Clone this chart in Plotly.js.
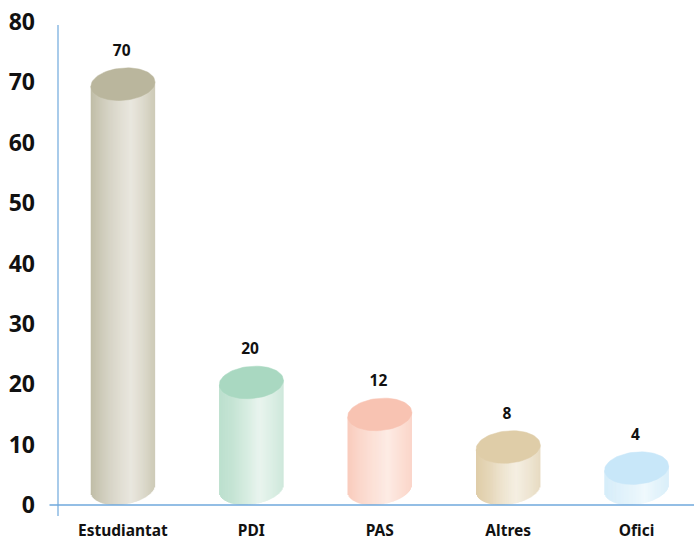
<!DOCTYPE html>
<html>
<head>
<meta charset="utf-8">
<script src="https://cdn.plot.ly/plotly-3.0.1.min.js"></script>
<style>html,body{margin:0;padding:0;background:#fff}#chart{width:694px;height:540px}</style>
</head>
<body>
<div id="chart"></div>
<script>
// Category names and the values printed over each column
const categories = ["Estudiantat", "PDI", "PAS", "Altres", "Ofici"];
const valueLabels = [70, 20, 12, 8, 4];
// Height of each column's top as drawn in the picture, read on the axis scale
// (the short 3D columns stand taller than their printed values)
const drawnHeights = [69.7, 20.3, 15, 9.6, 6.1];
const yTicks = [0, 10, 20, 30, 40, 50, 60, 70, 80];

// Colours: left edge, highlight, right edge, top cap
const shadeLeft = ["#bdb9a2", "#b4dcc8", "#f8c4b2", "#dfcda8", "#cde9f8"];
const shadeLight = ["#e5e3d9", "#e7f4ed", "#fdeae3", "#f3ecdd", "#f0f9fd"];
const shadeRight = ["#cecbb7", "#c5e4d5", "#fbd6c9", "#e4d6b9", "#d5edf9"];
const capColor = ["#bab69d", "#a9d8c1", "#f8c3b2", "#dfcda8", "#c8e7f9"];

// Cylinder proportions in axis units
const RX = 0.25, RY = 2.68, SKEW = 0.36, BOTTOM_SKEW = 0.62, BOTTOM_CENTER = 2.75, STRIPS = 65, HIGHLIGHT_AT = 0.63;
const FONT = "'Noto Sans', sans-serif";

function hex(c) { return [1, 3, 5].map(i => parseInt(c.substr(i, 2), 16)); }
function mix(a, b, t) {
  const A = hex(a), B = hex(b);
  return "rgb(" + A.map((v, i) => Math.round(v + (B[i] - v) * t)).join(",") + ")";
}

const traces = [];
categories.forEach((name, i) => {
  const xs = [], bases = [], heights = [], colors = [];
  for (let s = 0; s < STRIPS; s++) {
    const u = (s + 0.5) / STRIPS * 2 - 1;       // -1..1 across the column
    const low = BOTTOM_CENTER - RY * Math.sqrt(1 - u * u) + BOTTOM_SKEW * u;
    const top = drawnHeights[i] + SKEW * u;
    xs.push(i + u * RX);
    bases.push(low);
    heights.push(top - low);
    const p = (u + 1) / 2;
    colors.push(p < HIGHLIGHT_AT
      ? mix(shadeLeft[i], shadeLight[i], p / HIGHLIGHT_AT)
      : mix(shadeLight[i], shadeRight[i], (p - HIGHLIGHT_AT) / (1 - HIGHLIGHT_AT)));
  }
  traces.push({
    type: "bar", x: xs, y: heights, base: bases,
    width: xs.map(() => 2 * RX / STRIPS * 1.2),
    marker: { color: colors, line: { width: 0 } },
    hoverinfo: "skip", showlegend: false
  });
  const ex = [], ey = [];
  for (let a = 0; a <= 72; a++) {
    const t = a / 72 * 2 * Math.PI;
    ex.push(i + RX * Math.cos(t));
    ey.push(drawnHeights[i] + RY * Math.sin(t) + SKEW * Math.cos(t));
  }
  traces.push({
    type: "scatter", mode: "lines", x: ex, y: ey,
    fill: "toself", fillcolor: capColor[i],
    line: { width: 0.5, color: capColor[i] },
    hoverinfo: "skip", showlegend: false
  });
});

traces.push({
  type: "scatter", mode: "text",
  x: categories.map((_, i) => i - 0.01),
  y: drawnHeights.map(h => h + 5.3),
  text: valueLabels.map(String),
  textposition: "middle center",
  textfont: { family: FONT, size: 15.5, color: "#111" },
  texttemplate: "<b>%{text}</b>",
  hoverinfo: "skip", showlegend: false
});

const AXIS = "#6fa8dc";
const plotH = 483;
const layout = {
  width: 694, height: 540,
  margin: { l: 57.5, r: 0, t: 22, b: 35, pad: 0 },
  paper_bgcolor: "#fff", plot_bgcolor: "#fff",
  barmode: "overlay", showlegend: false,
  xaxis: {
    range: [-0.5058, 4.447], tickmode: "array",
    tickvals: categories.map((_, i) => i), ticktext: categories.map(c => "<b>" + c + "</b>"),
    showgrid: false, zeroline: false, showline: false, ticks: "",
    ticklabelstandoff: 14,
    tickfont: { family: FONT, size: 15.5, color: "#111" }
  },
  yaxis: {
    range: [0, 80], tickmode: "array",
    tickvals: yTicks, ticktext: yTicks.map(v => "<b>" + v + "</b>"),
    showgrid: false, zeroline: false, showline: false, ticks: "",
    ticklabelstandoff: 22,
    tickfont: { family: FONT, size: 23, color: "#111" }
  },
  shapes: [
    { type: "line", xref: "paper", yref: "paper", x0: 0, x1: 0, y0: -11 / plotH, y1: 1 - 3 / plotH,
      line: { color: AXIS, width: 1.2 } },
    { type: "line", xref: "paper", yref: "paper", x0: -8.5 / 636.5, x1: 1, y0: 0, y1: 0,
      line: { color: AXIS, width: 1.4 } }
  ]
};
Plotly.newPlot("chart", traces, layout, { displayModeBar: false, staticPlot: true });
</script>
</body>
</html>
